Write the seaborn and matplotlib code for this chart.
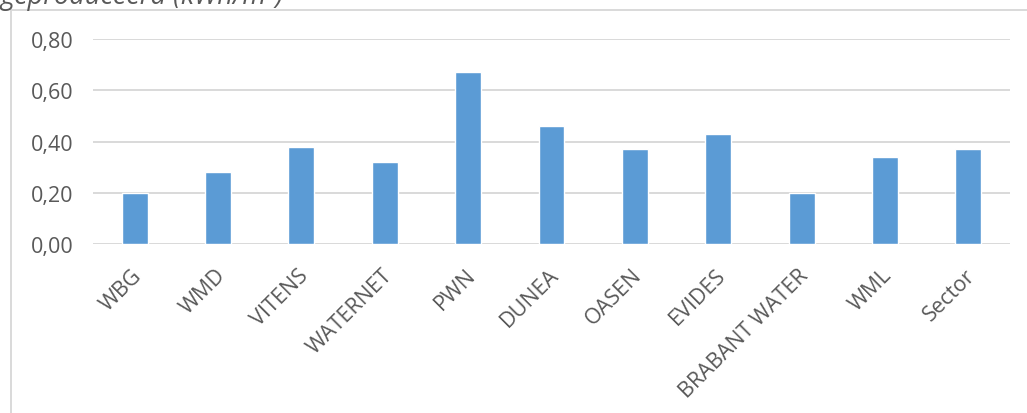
import pandas as pd
import matplotlib
matplotlib.use("Agg")
import matplotlib.pyplot as plt
import matplotlib.transforms as mtransforms
import seaborn as sns
from matplotlib.lines import Line2D

# Data
companies = ["WBG", "WMD", "VITENS", "WATERNET", "PWN", "DUNEA",
             "OASEN", "EVIDES", "BRABANT WATER", "WML", "Sector"]
kwh_per_m3 = [0.20, 0.28, 0.38, 0.32, 0.67, 0.46, 0.37, 0.43, 0.20, 0.34, 0.37]
y_ticks = [0.0, 0.2, 0.4, 0.6, 0.8]
y_tick_labels = ["0,00", "0,20", "0,40", "0,60", "0,80"]
title_text = "geproduceerd (kWh/m\u00b3)"

df = pd.DataFrame({"bedrijf": companies, "kwh": kwh_per_m3})

sns.set_style("white")
plt.rcParams["font.family"] = ["Open Sans", "DejaVu Sans"]

grey_text = "#595959"
grid_grey = "#d9d9d9"

fig = plt.figure(figsize=(10.27, 4.14), dpi=100)
ax = fig.add_axes([93 / 1027, 169 / 414, 917 / 1027, 205 / 414])

sns.barplot(data=df, x="bedrijf", y="kwh", color="#5b9bd5", width=0.31,
            saturation=1, ax=ax, zorder=3)

ax.set_ylim(0, 0.8)
ax.set_xlim(-0.5, len(companies) - 0.5)
ax.set_yticks(y_ticks)
ax.set_yticklabels(y_tick_labels)
ax.yaxis.grid(True, color=grid_grey, linewidth=1.4, zorder=0)
ax.set_axisbelow(True)
for s in ax.spines.values():
    s.set_visible(False)
ax.set_xlabel("")
ax.set_ylabel("")
ax.tick_params(axis="both", length=0, labelsize=15.5, labelcolor=grey_text)
ax.tick_params(axis="y", pad=14)
ax.tick_params(axis="x", pad=15)
# nudge the slanted labels a little right and down, like Excel does
shift = mtransforms.ScaledTranslation(4 / 100, -7 / 100, fig.dpi_scale_trans)
for lbl in ax.get_xticklabels():
    lbl.set_rotation(45)
    lbl.set_ha("right")
    lbl.set_va("center")
    lbl.set_rotation_mode("anchor")
    lbl.set_transform(lbl.get_transform() + shift)

# chart frame (only top and left edges are visible in the crop)
fig.add_artist(Line2D([10.5 / 1027, 1], [1 - 10.5 / 414, 1 - 10.5 / 414],
                      transform=fig.transFigure, color=grid_grey, linewidth=1.4))
fig.add_artist(Line2D([10.5 / 1027, 10.5 / 1027], [0, 1 - 10.5 / 414],
                      transform=fig.transFigure, color=grid_grey, linewidth=1.4))

# title, cut off at the top of the screenshot
fig.text(0.0, 1 - 4 / 414, title_text, fontsize=19.5, style="italic",
         color=grey_text, ha="left", va="baseline")

fig.savefig("out.png", dpi=100)
